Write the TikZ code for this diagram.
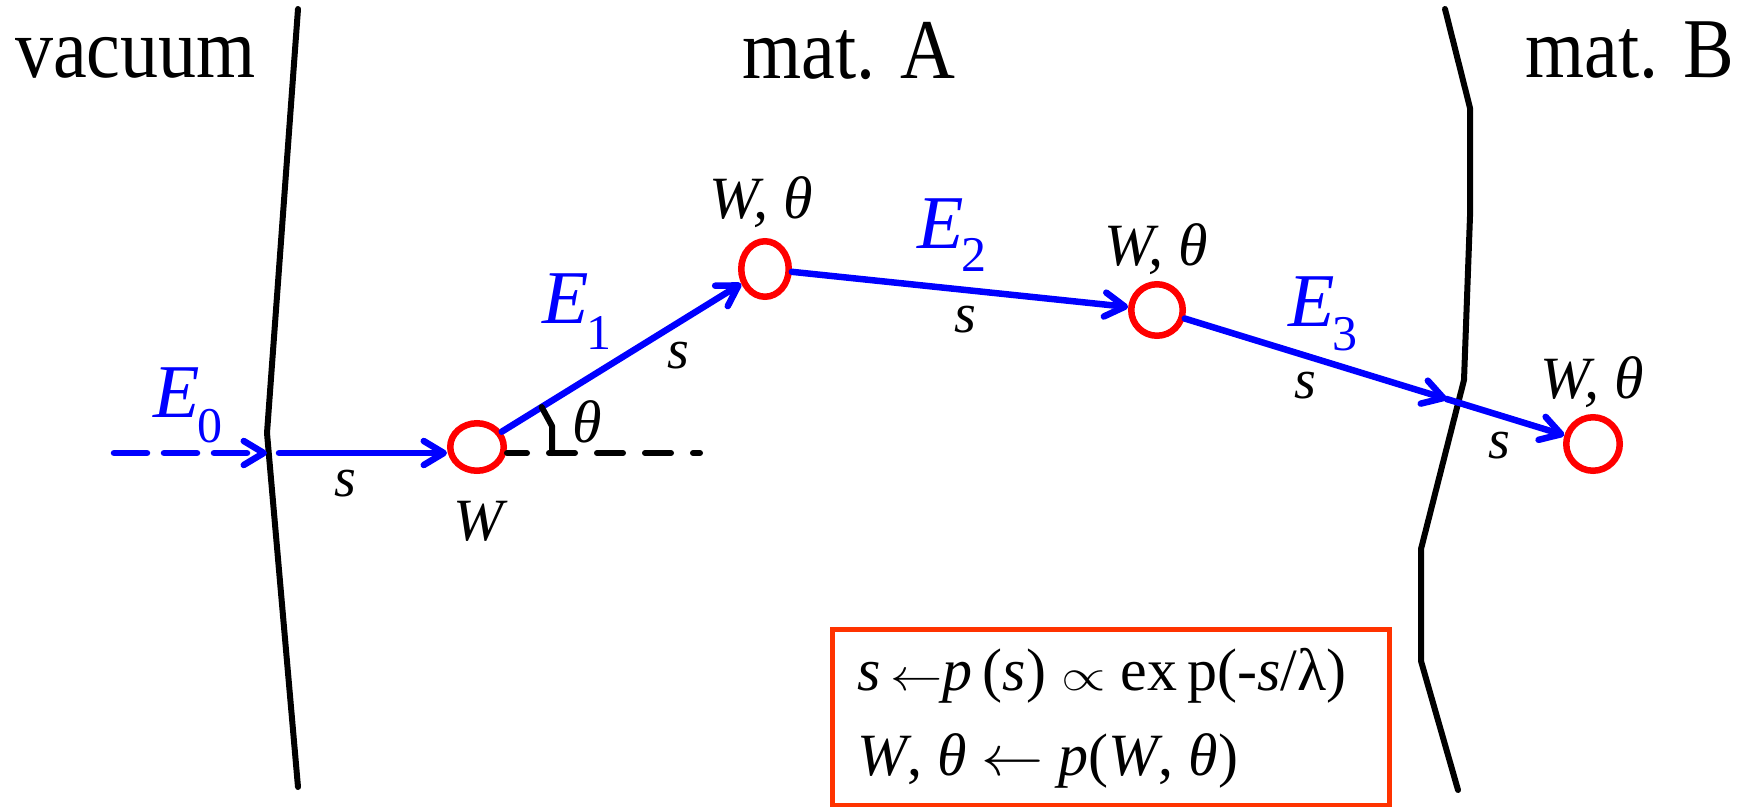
\documentclass[tikz,border=0pt]{standalone}
\usepackage{fontspec}
\setmainfont{Liberation Serif}
\usetikzlibrary{arrows.meta,calc,shapes.geometric}
\definecolor{boxred}{RGB}{255,51,0}
\newcommand{\tall}[1]{\scalebox{1}[1.12]{#1}}
\newcommand{\cmsym}[3]{\scalebox{#1}[#2]{\fontsize{24.88}{25}\selectfont$#3$}}
\begin{document}
\begin{tikzpicture}[x=1pt,y=-1pt,
  bnd/.style={line width=6pt, line cap=round, line join=round},
  site/.style={ellipse, draw=red, line width=6.5pt, inner sep=0pt},
  barrow/.style={draw=blue, line width=6.5pt, line cap=round,
    -{Straight Barb[length=20pt,width=24pt,line cap=round,line join=round]}},
  big/.style={font=\fontsize{76}{80}\selectfont, inner sep=0pt, anchor=base west},
  elab/.style={text=blue, font=\fontsize{76}{80}\selectfont, inner sep=0pt, anchor=base west},
  wlab/.style={font=\fontsize{60}{64}\selectfont\itshape, inner sep=0pt, anchor=base west},
  slab/.style={font=\fontsize{56}{60}\selectfont\itshape, inner sep=0pt, anchor=base},
  boxtxt/.style={font=\fontsize{60}{64}\selectfont, inner sep=0pt, anchor=base west},
  frame/.style={draw=boxred, line width=5pt, inner sep=0pt, anchor=north west}
]
\useasboundingbox (0,0) rectangle (1742,806);
% material boundaries
\draw[bnd] (298,9) -- (267,433) -- (298,787);
\draw[bnd] (1445,9) -- (1470,108) -- (1470,216) -- (1464,380) -- (1421,549) -- (1421,661) -- (1458,790);
% region titles
\node[big] (vac) at (15,77) {\tall{vacuum}};
\node[big] (matA) at (742,78) {\tall{mat. A}};
\node[big] (matB) at (1525,77) {\tall{mat. B}};
% scattering sites
\node[site, minimum width=53.5pt, minimum height=47.5pt] (c1) at (477,447) {};
\node[site, minimum width=47.5pt, minimum height=55.5pt] (c2) at (765,269) {};
\node[site, minimum width=51.5pt, minimum height=51.5pt] (c3) at (1157,310) {};
\node[site, minimum width=53.5pt, minimum height=53.5pt] (c4) at (1593,444) {};
% path
\coordinate (in0) at (114,453);
\coordinate (hitA) at (267,453);
\coordinate (outA) at (279,453);
\coordinate (refend) at (700,453);
\draw[barrow, dash pattern=on 33pt off 17pt] (in0) -- (hitA);
\draw[barrow] (outA) -- (outA -| c1.west);
\draw[barrow] (c1) -- (c2);
\draw[barrow] (c2) -- (c3);
\coordinate (hitB) at ($(c3)!0.664!(c4)$);
\draw[barrow] (c3) -- (hitB);
\draw[barrow] (hitB) -- (c4);
% reference line and angle mark
\draw[bnd, dash pattern=on 26pt off 22pt, dash phase=6pt] (c1.east |- hitA) -- (refend);
\draw[bnd] ($(c1)!76pt!(c2)$) -- (552,426) -- (552,453);
% energy labels
\node[elab] (E0) at (153,417) {\textit{E}\kern-2pt\raisebox{-25pt}{\fontsize{50}{50}\selectfont 0}};
\node[elab] (E1) at (542,323) {\textit{E}\kern-2pt\raisebox{-26pt}{\fontsize{50}{50}\selectfont 1}};
\node[elab] (E2) at (917,248) {\textit{E}\kern-2pt\raisebox{-23pt}{\fontsize{50}{50}\selectfont 2}};
\node[elab] (E3) at (1288,326) {\textit{E}\kern-2pt\raisebox{-24pt}{\fontsize{50}{50}\selectfont 3}};
% W, theta labels
\node[wlab] (W1) at (453,540) {W};
\node[wlab] (W2) at (709,218) {W, θ};
\node[wlab] (W3) at (1104,265) {W, θ};
\node[wlab] (W4) at (1540,398) {W, θ};
\node[wlab] (th) at (572,442) {θ};
% s labels
\node[slab] (s0) at (345,496) {s};
\node[slab] (s1) at (678,368) {s};
\node[slab] (s2) at (965,332) {s};
\node[slab] (s3) at (1305,398) {s};
\node[slab] (s4) at (1499,458) {s};
% formula box
\node[frame, minimum width=557pt, minimum height=176pt] (box) at (830,627) {};
\node[boxtxt] (f1) at (857,690) {\textit{s}\,\cmsym{2.1}{1.8}{\leftarrow}\textit{p}\,(\textit{s}) \cmsym{2.3}{1.8}{\propto} ex\,p(-\textit{s}/λ)};
\node[boxtxt] (f2) at (857,775) {\textit{W}, \textit{θ} \cmsym{2.5}{2.3}{\leftarrow} \textit{p}(\textit{W}, \textit{θ})};
\end{tikzpicture}
\end{document}
